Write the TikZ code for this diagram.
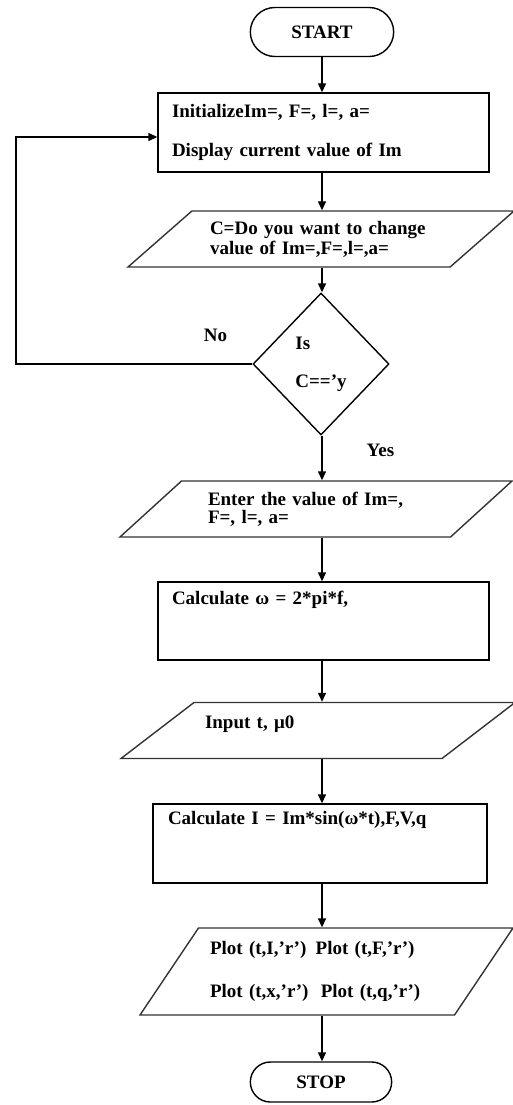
\documentclass[tikz,border=0pt]{standalone}
\usepackage{fontspec}
\setmainfont{Liberation Serif}
\usepackage{tikz}
\usetikzlibrary{arrows.meta, positioning, shapes.geometric, shapes.misc}

\begin{document}
\begin{tikzpicture}[x=1pt, y=-1pt,
  txt/.style={font=\fontsize{19}{22}\selectfont\bfseries},
  term/.style={draw, line width=1.4pt, rounded rectangle, minimum width=150pt, minimum height=49pt, txt},
  proc/.style={draw, line width=1.4pt, rectangle, minimum width=331pt, text width=303pt, inner xsep=14pt, inner ysep=6pt, align=left, txt},
  io/.style={draw=black!80, line width=1.4pt, trapezium, trapezium left angle=37, trapezium right angle=143, trapezium stretches body, minimum height=56pt, inner ysep=6pt, align=left, txt},
  cond/.style={draw, line width=1.4pt, diamond, minimum width=136pt, minimum height=142pt, inner sep=0pt, align=left, txt},
  flow/.style={line width=1.4pt, -{Triangle[length=9pt, width=8pt]}},
  lbl/.style={inner sep=0pt, txt}]
\useasboundingbox (0,0) rectangle (513,1105);

\node[term] (start) at (322,32) {START};
\node[proc, minimum height=79pt] (init) at (323.5,132.5) {InitializeIm=, F=, l=, a=\\[17pt]Display current value of Im};
\node[io, text width=222pt, inner xsep=8pt, minimum width=386pt] (ask) at (321,239) {C=Do you want to change\\[-2pt]value of Im=,F=,l=,a=};
\node[cond] (check) at (321,364) {Is\\[16pt]C=='y};
\node[io, text width=216pt, inner xsep=12pt, minimum width=392pt] (enter) at (316,509) {Enter the value of Im=,\\[-4pt]F=, l=, a=};
\node[proc, text height=16pt, text depth=50pt] (omega) at (323.5,621) {Calculate ω = 2*pi*f,};
\node[io, text width=226pt, inner xsep=6pt, minimum width=394pt, text height=19pt, text depth=24pt] (input) at (318,730.5) {Input t, μ0};
\node[proc, minimum width=334pt, text width=304pt, inner xsep=15pt, text height=14pt, text depth=53pt] (current) at (320,843.5) {Calculate I = Im*sin(ω*t),F,V,q};
\node[io, trapezium left angle=51, trapezium right angle=129, text width=233pt, inner xsep=0pt, minimum width=373pt, minimum height=87pt] (plot) at (326.5,971.5) {Plot (t,I,'r')\hspace{3pt} Plot (t,F,'r')\\[21pt]Plot (t,x,'r')\hspace{6pt} Plot (t,q,'r')};
\node[term, minimum width=148pt, minimum height=40pt] (stop) at (321,1082) {STOP};

% connectors
\coordinate (spine) at (322,0);
\coordinate (back) at (16,0);
\draw[flow] (spine |- start.south) -- (spine |- init.north);
\draw[flow] (spine |- init.south) -- (spine |- ask.north);
\draw[flow] (spine |- ask.south) -- (spine |- check.north);
\draw[flow] (spine |- check.south) -- node[lbl, pos=0.33, right=44pt] {Yes} (spine |- enter.north);
\draw[flow] (spine |- enter.south) -- (spine |- omega.north);
\draw[flow] (spine |- omega.south) -- (spine |- input.north);
\draw[flow] (spine |- input.south) -- (spine |- current.north);
\draw[flow] (spine |- current.south) -- (spine |- plot.north);
\draw[flow] (spine |- plot.south) -- (spine |- stop.north);
\draw[flow] (check.west) -- node[lbl, pos=0.156, above=22pt] {No} (check.west -| back) |- ([yshift=-4.5pt]init.west);
\end{tikzpicture}
\end{document}
